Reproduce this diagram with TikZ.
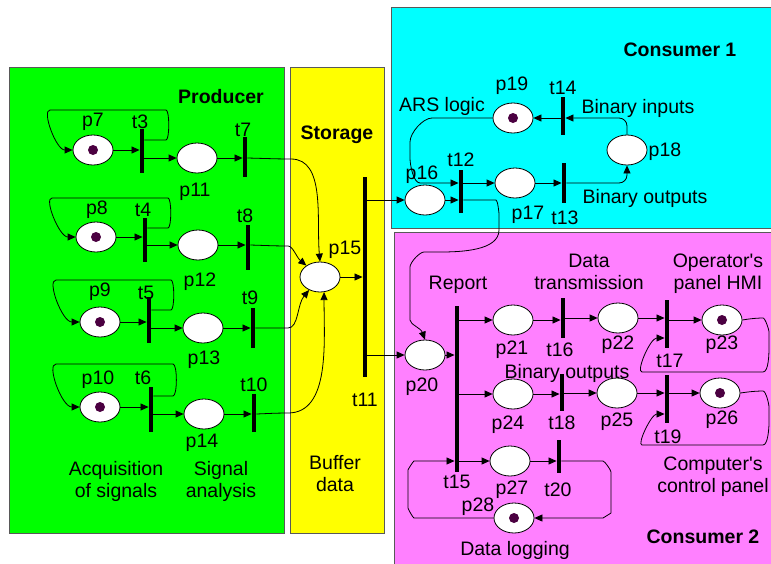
\documentclass[tikz,border=0pt]{standalone}
\usepackage{fontspec}
\setmainfont{Liberation Sans}
\usetikzlibrary{shapes.geometric,arrows.meta}

\definecolor{prodgreen}{RGB}{0,255,0}
\definecolor{storyellow}{RGB}{255,255,0}
\definecolor{conscyan}{RGB}{0,255,255}
\definecolor{conspink}{RGB}{255,128,255}
\definecolor{tokencol}{RGB}{75,0,65}

\tikzset{
  place/.style={ellipse,draw,fill=white,line width=0.8pt,minimum width=40pt,minimum height=30pt,inner sep=0pt},
  marked/.style={place,path picture={\fill[tokencol] (path picture bounding box.center) circle (5pt);}},
  trans/.style={rectangle,fill=black,minimum width=4.5pt,inner sep=0pt},
  arc/.style={-{Triangle[length=8pt,width=7pt]},line width=0.8pt,rounded corners=8pt},
  lbl/.style={font=\fontsize{19.5}{22}\selectfont,inner sep=0pt,align=center},
  heading/.style={font=\fontsize{19.5}{22}\selectfont\bfseries,inner sep=0pt},
  panel/.style={draw=black!65,line width=0.8pt}
}

\begin{document}
\begin{tikzpicture}[x=1pt,y=-1pt]
  \useasboundingbox (0,0) rectangle (771,563);

  \draw[panel,fill=prodgreen]  (9,67)   rectangle (284,533);
  \draw[panel,fill=storyellow] (290,67) rectangle (384,533);
  \draw[panel,fill=conscyan]   (391,7)  rectangle (775,228);
  \draw[panel,fill=conspink]   (394,232) rectangle (775,570);

  \begin{scope}[every node/.style={place}]
    \node[marked] (p7)  at (93,150)  {};
    \node[marked] (p8)  at (96,237)  {};
    \node[marked] (p9)  at (100,322) {};
    \node[marked] (p10) at (100,407) {};
    \node (p11) at (197,158) {};
    \node (p12) at (198,245) {};
    \node (p13) at (203,328) {};
    \node (p14) at (204,414) {};
    \node (p15) at (320,277) {};
    \node (p16) at (425,200) {};
    \node (p17) at (515,183) {};
    \node (p18) at (627,150) {};
    \node[marked] (p19) at (513,118) {};
    \node (p20) at (425,355) {};
    \node (p21) at (513,320) {};
    \node (p22) at (618,318) {};
    \node[marked] (p23) at (722,320) {};
    \node (p24) at (513,394) {};
    \node (p25) at (617,393) {};
    \node[marked] (p26) at (720,393) {};
    \node (p27) at (510,461) {};
    \node[marked] (p28) at (514,518) {};
  \end{scope}

  \begin{scope}[every node/.style={trans}]
    \node[minimum height=44pt]  (t3)  at (142,151) {};
    \node[minimum height=44pt]  (t4)  at (145,240) {};
    \node[minimum height=46pt]  (t5)  at (149,320) {};
    \node[minimum height=45pt]  (t6)  at (151,409) {};
    \node[minimum height=40pt]  (t7)  at (245,157) {};
    \node[minimum height=45pt]  (t8)  at (248,247) {};
    \node[minimum height=40pt]  (t9)  at (253,328) {};
    \node[minimum height=38pt]  (t10) at (254,413) {};
    \node[minimum height=200pt] (t11) at (365,277) {};
    \node[minimum height=43pt]  (t12) at (461,191) {};
    \node[minimum height=40pt]  (t13) at (564,183) {};
    \node[minimum height=38pt]  (t14) at (563,116) {};
    \node[minimum height=166pt] (t15) at (457,389) {};
    \node[minimum height=40pt]  (t16) at (563,318) {};
    \node[minimum height=48pt]  (t17) at (667,324) {};
    \node[minimum height=37pt]  (t18) at (562,392) {};
    \node[minimum height=48pt]  (t19) at (667,399) {};
    \node[minimum height=33pt]  (t20) at (559,456) {};
  \end{scope}

  \begin{scope}[every node/.style={lbl}]
    \node (lp7)  at (93,122)  {p7};
    \node (lt3)  at (140,122) {t3};
    \node (lt7)  at (243,130) {t7};
    \node (lp11) at (195,192) {p11};
    \node (lp8)  at (97,210)  {p8};
    \node (lt4)  at (143,210) {t4};
    \node (lt8)  at (245,216) {t8};
    \node (lp12) at (200,282) {p12};
    \node (lp9)  at (100,292) {p9};
    \node (lt5)  at (146,293) {t5};
    \node (lt9)  at (250,298) {t9};
    \node (lp13) at (204,360) {p13};
    \node (lp10) at (98,380)  {p10};
    \node (lt6)  at (143,378) {t6};
    \node (lt10) at (254,385) {t10};
    \node (lp14) at (202,443) {p14};
    \node (acq)  at (116,481) {Acquisition\\of signals};
    \node (ana)  at (221,481) {Signal\\analysis};
    \node (lp15) at (345,250) {p15};
    \node (lt11) at (365,400) {t11};
    \node (buf)  at (335,474) {Buffer\\data};
    \node (lp16) at (422,175) {p16};
    \node (lt12) at (461,160) {t12};
    \node (lp17) at (528,215) {p17};
    \node (lt13) at (565,218) {t13};
    \node (lp18) at (665,152) {p18};
    \node (lp19) at (512,86)  {p19};
    \node (lt14) at (563,88)  {t14};
    \node (ars)  at (442,106) {ARS logic};
    \node (binin) at (638,108) {Binary inputs};
    \node (binout) at (645,198) {Binary outputs};
    \node (rep)  at (458,285) {Report};
    \node (dtx)  at (589,272) {Data\\transmission};
    \node (hmi)  at (718,274) {Operator\textquotesingle s\\panel HMI};
    \node (lp20) at (422,387) {p20};
    \node (lp21) at (512,350) {p21};
    \node (lt16) at (560,350) {t16};
    \node (lp22) at (618,345) {p22};
    \node (lt17) at (670,361) {t17};
    \node (lp23) at (722,345) {p23};
    \node (binout2) at (567,373) {Binary outputs};
    \node (lp24) at (508,425) {p24};
    \node (lt18) at (562,423) {t18};
    \node (lp25) at (617,422) {p25};
    \node (lt19) at (668,437) {t19};
    \node (lp26) at (722,420) {p26};
    \node (ccp)  at (713,477) {Computer\textquotesingle s\\control\hspace{5pt}panel};
    \node (lt15) at (457,482) {t15};
    \node (lp27) at (512,490) {p27};
    \node (lt20) at (558,490) {t20};
    \node (lp28) at (478,507) {p28};
    \node (dlog) at (515,550) {Data logging};
  \end{scope}

  \begin{scope}[every node/.style={heading}]
    \node (prod) at (221,97)  {Producer};
    \node (stor) at (337,135) {Storage};
    \node (cons1) at (680,50) {Consumer 1};
    \node (cons2) at (703,537) {Consumer 2};
  \end{scope}

  \draw[arc] (p7)  -- (t3.west |- p7);
  \draw[arc] (p8)  -- (t4.west |- p8);
  \draw[arc] (p9)  -- (t5.west |- p9);
  \draw[arc] (p10) -- (t6.west |- p10);
  \draw[arc] (t3.east |- p11) -- (p11);
  \draw[arc] (t4.east |- p12) -- (p12);
  \draw[arc] (t5.east |- p13) -- (p13);
  \draw[arc] (t6.east |- p14) -- (p14);
  \draw[arc] (p11) -- (t7.west |- p11);
  \draw[arc] (p12) -- (t8.west |- p12);
  \draw[arc] (p13) -- (t9.west |- p13);
  \draw[arc] (p14) -- (t10.west |- p14);

  \draw[arc] (t3.east |- 0,140) -- (158,140) to[out=0,in=0] (158,110)
    -- (58,110) to[out=180,in=180] (p7.west);
  \draw[arc] (t4.east |- 0,228) -- (160,228) to[out=0,in=0] (160,198)
    -- (60,198) to[out=180,in=180] (p8.west);
  \draw[arc] (t5.east |- 0,310) -- (163,310) to[out=0,in=0] (163,280)
    -- (64,280) to[out=180,in=180] (p9.west);
  \draw[arc] (t6.east |- 0,396) -- (165,396) to[out=0,in=0] (165,364)
    -- (64,364) to[out=180,in=180] (p10.west);

  \draw[arc] (t7.east |- p11) -- (283,159) to[out=0,in=95] (p15.north);
  \draw[arc] (t8.east |- p12) -- (280,246) to[out=0,in=140] (p15.140);
  \draw[arc] (t9.east |- p13) -- (280,328) to[out=0,in=-130] (p15.-130);
  \draw[arc] (t10.east |- p14) -- (280,413) to[out=0,in=-90] (p15.-75);
  \draw[arc] (p15) -- (t11.west |- p15);

  \draw[arc] (t11.east |- p16) -- (p16);
  \draw[arc] (t11.east |- p20) -- (p20);

  \draw[arc] (p16) -- (t12.west |- p16);
  \draw[arc] (p19.west) -- (440,118) to[out=180,in=90] (410,150)
    to[out=-90,in=180] (428,183) -- (t12.west |- p17);
  \draw[arc] (t12.east |- p17) -- (p17);
  \draw[arc] (p17) -- (t13.west |- p17);
  \draw[arc] (t13.east |- p17) -| (p18.south);
  \draw[arc] (p18.north) |- (t14.east |- p19);
  \draw[arc] (t14.west |- p19) -- (p19);
  \draw[arc] (t12.east |- p16) -- (488,200) to[out=0,in=90] (499,222)
    to[out=-90,in=0] (432,252) to[out=180,in=90] (410,275) -- (410,312)
    to[out=-90,in=110] (p20.north);

  \draw[arc] (p20) -- (t15.west |- p20);
  \draw[arc] (t15.east |- p21) -- (p21);
  \draw[arc] (t15.east |- p24) -- (p24);
  \draw[arc] (t15.east |- p27) -- (p27);
  \draw[arc] (p21) -- (t16.west |- p21);
  \draw[arc] (t16.east |- p22) -- (p22);
  \draw[arc] (p22) -- (t17.west |- p22);
  \draw[arc] (t17.east |- p23) -- (p23);
  \draw[arc] (p24) -- (t18.west |- p24);
  \draw[arc] (t18.east |- p25) -- (p25);
  \draw[arc] (p25) -- (t19.west |- p25);
  \draw[arc] (t19.east |- p26) -- (p26);
  \draw[arc] (p27) -- (t20.west |- p27);

  \draw[arc] (p23.east) -- (755,318) to[out=0,in=90] (769,340)
    to[out=-90,in=0] (755,372) -- (650,372) to[out=180,in=180] (t17.west |- 0,338);
  \draw[arc] (p26.east) -- (755,391) to[out=0,in=90] (769,415)
    to[out=-90,in=0] (755,445) -- (650,445) to[out=180,in=180] (t19.west |- 0,414);
  \draw[arc] (t20.east |- p27) -- (595,461) to[out=0,in=90] (611,480)
    -- (611,505) to[out=-90,in=0] (595,518) -- (p28.east);
  \draw[arc] (p28.west) -- (422,518) to[out=180,in=-90] (408,500)
    -- (408,478) to[out=90,in=180] (422,461) -- (t15.west |- p27);
\end{tikzpicture}
\end{document}
